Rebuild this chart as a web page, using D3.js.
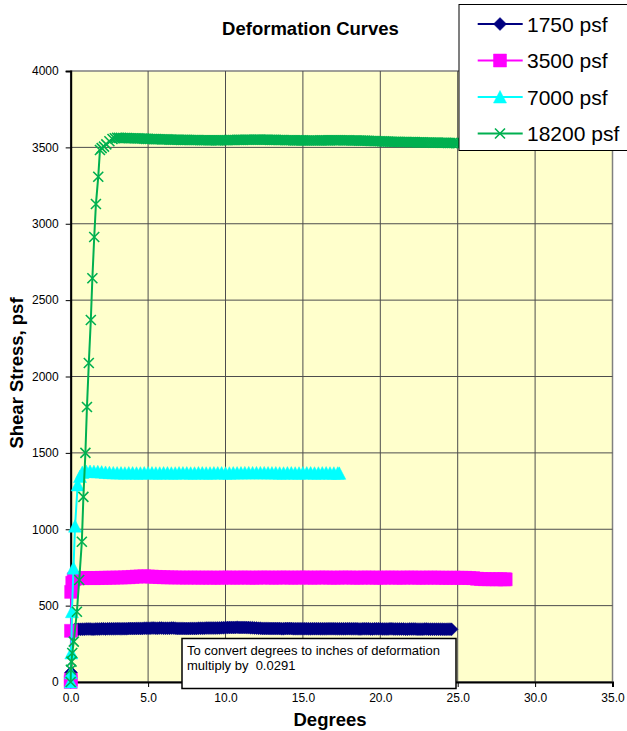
<!DOCTYPE html>
<html>
<head>
<meta charset="utf-8">
<script src="https://cdnjs.cloudflare.com/ajax/libs/d3/7.8.5/d3.min.js"></script>
<style>
  body { margin: 0; background: #fff; }
  text { font-family: "Liberation Sans", Arial, sans-serif; white-space: pre; }
</style>
</head>
<body>
<div id="chart"></div>
<script>
// Chart data
var seriesNames = ['1750 psf', '3500 psf', '7000 psf', '18200 psf'];
var xTicks = [0, 5, 10, 15, 20, 25, 30, 35];
var xTickLabels = ['0.0', '5.0', '10.0', '15.0', '20.0', '25.0', '30.0', '35.0'];
var yTicks = [0, 500, 1000, 1500, 2000, 2500, 3000, 3500, 4000];
var yTickLabels = ['0', '500', '1000', '1500', '2000', '2500', '3000', '3500', '4000'];
var noteLines = ['To convert degrees to inches of deformation', 'multiply by  0.0291'];

// [degrees, shear stress psf]
var s1750 = [[0,0],[0.02,62],[0.12,335],[0.25,342],[0.375,344],[0.5,345],[0.625,345],[0.75,346],[0.875,346],[1,347],[1.125,347],[1.25,347],[1.375,346],[1.5,346],[1.625,347],[1.75,347],[1.875,347],[2,348],[2.125,348],[2.25,347],[2.375,348],[2.5,348],[2.625,348],[2.75,348],[2.875,348],[3,349],[3.125,349],[3.25,348],[3.375,349],[3.5,349],[3.625,349],[3.75,350],[3.875,350],[4,350],[4.125,350],[4.25,351],[4.375,351],[4.5,351],[4.625,351],[4.75,352],[4.875,352],[5,352],[5.125,352],[5.25,353],[5.375,353],[5.5,352],[5.625,352],[5.75,353],[5.875,353],[6,352],[6.125,352],[6.25,352],[6.375,352],[6.5,353],[6.625,353],[6.75,352],[6.875,351],[7,351],[7.125,351],[7.25,351],[7.375,350],[7.5,350],[7.625,350],[7.75,351],[7.875,351],[8,351],[8.125,351],[8.25,352],[8.375,352],[8.5,352],[8.625,352],[8.75,353],[8.875,353],[9,353],[9.125,353],[9.25,353],[9.375,353],[9.5,354],[9.625,354],[9.75,355],[9.875,355],[10,356],[10.125,356],[10.25,357],[10.375,357],[10.5,357],[10.625,357],[10.75,358],[10.875,357],[11,357],[11.125,357],[11.25,357],[11.375,356],[11.5,356],[11.625,355],[11.75,355],[11.875,354],[12,353],[12.125,352],[12.25,352],[12.375,351],[12.5,351],[12.625,351],[12.75,351],[12.875,350],[13,350],[13.125,350],[13.25,350],[13.375,350],[13.5,350],[13.625,349],[13.75,349],[13.875,350],[14,350],[14.125,350],[14.25,350],[14.375,349],[14.5,349],[14.625,349],[14.75,349],[14.875,349],[15,349],[15.125,349],[15.25,349],[15.375,348],[15.5,348],[15.625,349],[15.75,349],[15.875,349],[16,349],[16.125,348],[16.25,348],[16.375,348],[16.5,348],[16.625,349],[16.75,349],[16.875,349],[17,349],[17.125,348],[17.25,348],[17.375,348],[17.5,348],[17.625,348],[17.75,348],[17.875,349],[18,349],[18.125,348],[18.25,348],[18.375,348],[18.5,348],[18.625,347],[18.75,347],[18.875,348],[19,348],[19.125,348],[19.25,348],[19.375,347],[19.5,347],[19.625,348],[19.75,348],[19.875,348],[20,348],[20.125,347],[20.25,347],[20.375,347],[20.5,347],[20.625,348],[20.75,348],[20.875,347],[21,347],[21.125,347],[21.25,347],[21.375,347],[21.5,347],[21.625,346],[21.75,346],[21.875,347],[22,347],[22.125,347],[22.25,347],[22.375,346],[22.5,346],[22.625,346],[22.75,346],[22.875,347],[23,347],[23.125,346],[23.25,346],[23.375,346],[23.5,346],[23.625,346],[23.75,346],[23.875,346],[24,346],[24.125,345],[24.25,345],[24.375,346],[24.5,346],[24.6,345]];

var s3500 = [[0,0],[0.01,15],[0.02,335],[0.03,590],[0.1,650],[0.2,672],[0.25,676],[0.5,679],[0.75,680],[1,681],[1.25,681],[1.5,680],[1.75,681],[2,682],[2.25,682],[2.5,683],[2.75,683],[3,684],[3.25,684],[3.5,685],[3.75,686],[4,688],[4.25,690],[4.5,691],[4.75,692],[5,691],[5.25,690],[5.5,688],[5.75,687],[6,686],[6.25,685],[6.5,685],[6.75,684],[7,684],[7.25,684],[7.5,683],[7.75,684],[8,684],[8.25,683],[8.5,683],[8.75,684],[9,683],[9.25,683],[9.5,683],[9.75,683],[10,684],[10.25,684],[10.5,683],[10.75,683],[11,684],[11.25,684],[11.5,683],[11.75,683],[12,683],[12.25,684],[12.5,684],[12.75,684],[13,683],[13.25,683],[13.5,684],[13.75,684],[14,684],[14.25,683],[14.5,683],[14.75,684],[15,684],[15.25,684],[15.5,683],[15.75,683],[16,684],[16.25,684],[16.5,684],[16.75,683],[17,683],[17.25,683],[17.5,684],[17.75,684],[18,684],[18.25,683],[18.5,683],[18.75,683],[19,684],[19.25,684],[19.5,683],[19.75,683],[20,683],[20.25,683],[20.5,684],[20.75,684],[21,683],[21.25,683],[21.5,683],[21.75,684],[22,684],[22.25,683],[22.5,683],[22.75,683],[23,683],[23.25,684],[23.5,683],[23.75,683],[24,683],[24.25,682],[24.5,682],[24.75,683],[25,682],[25.25,682],[25.5,682],[25.75,681],[26,680],[26.25,676],[26.5,674],[26.75,673],[27,673],[27.25,673],[27.5,672],[27.75,673],[28,672],[28.1,672]];

var s7000 = [[0,0],[0.01,60],[0.04,190],[0.08,460],[0.18,745],[0.28,1020],[0.45,1290],[0.6,1345],[0.75,1372],[1,1378],[1.25,1378],[1.5,1377],[1.75,1376],[2,1374],[2.25,1372],[2.5,1370],[2.75,1369],[3,1368],[3.25,1368],[3.5,1367],[3.75,1368],[4,1368],[4.25,1367],[4.5,1367],[4.75,1368],[5,1368],[5.25,1368],[5.5,1367],[5.75,1367],[6,1368],[6.25,1368],[6.5,1367],[6.75,1367],[7,1368],[7.25,1368],[7.5,1368],[7.75,1367],[8,1367],[8.25,1368],[8.5,1368],[8.75,1367],[9,1367],[9.25,1368],[9.5,1368],[9.75,1368],[10,1367],[10.25,1367],[10.5,1368],[10.75,1368],[11,1368],[11.25,1369],[11.5,1369],[11.75,1369],[12,1369],[12.25,1369],[12.5,1369],[12.75,1368],[13,1368],[13.25,1368],[13.5,1367],[13.75,1367],[14,1368],[14.25,1368],[14.5,1367],[14.75,1367],[15,1368],[15.25,1368],[15.5,1368],[15.75,1367],[16,1367],[16.25,1368],[16.5,1368],[16.75,1367],[17,1367],[17.25,1367],[17.35,1366]];

var s18200 = [[0,0],[0.01,80],[0.05,133],[0.1,190],[0.2,264],[0.4,460],[0.55,668],[0.72,918],[0.82,1212],[0.95,1500],[1.05,1800],[1.17,2088],[1.3,2370],[1.4,2643],[1.52,2913],[1.63,3129],[1.78,3308],[1.89,3483],[2,3495],[2.15,3505],[2.3,3520],[2.5,3540],[2.7,3555],[2.85,3560],[3,3562],[3.125,3562],[3.25,3562],[3.375,3561],[3.5,3561],[3.625,3561],[3.75,3560],[3.875,3560],[4,3560],[4.125,3559],[4.25,3559],[4.375,3559],[4.5,3558],[4.625,3558],[4.75,3557],[4.875,3556],[5,3556],[5.125,3555],[5.25,3555],[5.375,3554],[5.5,3554],[5.625,3553],[5.75,3553],[5.875,3552],[6,3552],[6.125,3552],[6.25,3552],[6.375,3551],[6.5,3551],[6.625,3550],[6.75,3550],[6.875,3550],[7,3550],[7.125,3549],[7.25,3549],[7.375,3549],[7.5,3549],[7.625,3548],[7.75,3548],[7.875,3548],[8,3548],[8.125,3548],[8.25,3548],[8.375,3547],[8.5,3547],[8.625,3547],[8.75,3547],[8.875,3547],[9,3547],[9.125,3547],[9.25,3547],[9.375,3546],[9.5,3546],[9.625,3546],[9.75,3547],[9.875,3547],[10,3547],[10.125,3547],[10.25,3548],[10.375,3548],[10.5,3548],[10.625,3548],[10.75,3549],[10.875,3549],[11,3549],[11.125,3549],[11.25,3550],[11.375,3550],[11.5,3550],[11.625,3550],[11.75,3550],[11.875,3551],[12,3551],[12.125,3551],[12.25,3551],[12.375,3550],[12.5,3550],[12.625,3550],[12.75,3550],[12.875,3549],[13,3549],[13.125,3549],[13.25,3549],[13.375,3548],[13.5,3548],[13.625,3548],[13.75,3548],[13.875,3547],[14,3547],[14.125,3547],[14.25,3547],[14.375,3546],[14.5,3546],[14.625,3546],[14.75,3546],[14.875,3546],[15,3546],[15.125,3545],[15.25,3545],[15.375,3545],[15.5,3545],[15.625,3545],[15.75,3545],[15.875,3545],[16,3545],[16.125,3546],[16.25,3546],[16.375,3546],[16.5,3546],[16.625,3546],[16.75,3546],[16.875,3547],[17,3547],[17.125,3547],[17.25,3547],[17.375,3547],[17.5,3547],[17.625,3546],[17.75,3546],[17.875,3546],[18,3546],[18.125,3545],[18.25,3545],[18.375,3545],[18.5,3545],[18.625,3544],[18.75,3544],[18.875,3544],[19,3544],[19.125,3543],[19.25,3543],[19.375,3542],[19.5,3542],[19.625,3541],[19.75,3541],[19.875,3540],[20,3540],[20.125,3539],[20.25,3539],[20.375,3538],[20.5,3538],[20.625,3537],[20.75,3537],[20.875,3537],[21,3537],[21.125,3536],[21.25,3536],[21.375,3535],[21.5,3535],[21.625,3535],[21.75,3535],[21.875,3534],[22,3534],[22.125,3534],[22.25,3534],[22.375,3533],[22.5,3533],[22.625,3533],[22.75,3533],[22.875,3532],[23,3532],[23.125,3532],[23.25,3532],[23.375,3531],[23.5,3531],[23.625,3531],[23.75,3531],[23.875,3530],[24,3530],[24.125,3530],[24.25,3530],[24.375,3529],[24.5,3529],[24.625,3529],[24.75,3529],[24.875,3528],[25,3528],[25.25,3528],[25.5,3528],[25.75,3527],[26,3527],[26.5,3527]];

var allSeries = [s1750, s3500, s7000, s18200];
var seriesColors = ['#000080', '#ff00ff', '#00ffff', '#00b050'];

// Marker shapes, Excel style
var markerPaths = [
    'M0,-6.5L6.5,0L0,6.5L-6.5,0Z',
    'M-6.5,-6.5H6.5V6.5H-6.5Z',
    'M0,-6.5L6.5,6L-6.5,6Z',
    'M-5,-5L5,5M5,-5L-5,5'
];

var svgWidth = 627;
var svgHeight = 731;

var margin = {
    top: 71,
    left: 70.7,
    right: 14.5,
    bottom: 49
};

var chartWidth = svgWidth - margin.left - margin.right;
var chartHeight = svgHeight - margin.top - margin.bottom;

var svg = d3.select('#chart')
    .append('svg')
    .attr('width', svgWidth)
    .attr('height', svgHeight);

var chartGroup = svg.append('g')
    .attr('transform', `translate(${margin.left}, ${margin.top})`);

// Scales
var xLinearScale = d3.scaleLinear()
    .domain([0, 35])
    .range([0, chartWidth]);

var yLinearScale = d3.scaleLinear()
    .domain([0, 4000])
    .range([chartHeight, 0]);

// Plot area
chartGroup.append('rect')
    .attr('width', chartWidth)
    .attr('height', chartHeight)
    .attr('fill', '#ffffcc')
    .attr('stroke', '#808080')
    .attr('stroke-width', 1.5);

// Gridlines
chartGroup.selectAll('.vgrid')
    .data(xTicks.slice(1, -1))
    .enter()
    .append('line')
    .attr('x1', d => xLinearScale(d))
    .attr('x2', d => xLinearScale(d))
    .attr('y1', 0)
    .attr('y2', chartHeight)
    .attr('stroke', '#4d4d4d')
    .attr('stroke-width', 1);

chartGroup.selectAll('.hgrid')
    .data(yTicks.slice(1, -1))
    .enter()
    .append('line')
    .attr('x1', 0)
    .attr('x2', chartWidth)
    .attr('y1', d => yLinearScale(d))
    .attr('y2', d => yLinearScale(d))
    .attr('stroke', '#4d4d4d')
    .attr('stroke-width', 1);

// Axes
var xAxis = d3.axisBottom(xLinearScale)
    .tickValues(xTicks)
    .tickFormat((d, i) => xTickLabels[i])
    .tickSize(5)
    .tickPadding(6.5);

var yAxis = d3.axisLeft(yLinearScale)
    .tickValues(yTicks)
    .tickFormat((d, i) => yTickLabels[i])
    .tickSize(5)
    .tickPadding(7);

var xAxisGroup = chartGroup.append('g')
    .attr('transform', `translate(0, ${chartHeight})`)
    .call(xAxis);

var yAxisGroup = chartGroup.append('g')
    .call(yAxis);

[xAxisGroup, yAxisGroup].forEach(function (g) {
    g.select('.domain').attr('stroke', '#000').attr('stroke-width', 2);
    g.selectAll('.tick line').attr('stroke', '#000').attr('stroke-width', 1);
    g.selectAll('text')
        .attr('fill', '#000')
        .style('font-size', '12px')
        .style('font-family', '"Liberation Sans", Arial, sans-serif');
});

// Series lines and markers
var line = d3.line()
    .x(d => xLinearScale(d[0]))
    .y(d => yLinearScale(d[1]));

allSeries.forEach(function (data, i) {
    var color = seriesColors[i];
    var isCross = i === 3;

    chartGroup.append('path')
        .datum(data)
        .attr('d', line)
        .attr('fill', 'none')
        .attr('stroke', color)
        .attr('stroke-width', 2);

    chartGroup.selectAll('.marker' + i)
        .data(data)
        .enter()
        .append('path')
        .attr('transform', d => `translate(${xLinearScale(d[0])}, ${yLinearScale(d[1])})`)
        .attr('d', markerPaths[i])
        .attr('fill', isCross ? 'none' : color)
        .attr('stroke', color)
        .attr('stroke-width', isCross ? 1.6 : 0.5);
});

// Conversion note
var noteGroup = svg.append('g');

noteGroup.append('rect')
    .attr('x', 182)
    .attr('y', 638.5)
    .attr('width', 274)
    .attr('height', 50)
    .attr('fill', '#fff')
    .attr('stroke', '#000')
    .attr('stroke-width', 1.5);

noteGroup.selectAll('text')
    .data(noteLines)
    .enter()
    .append('text')
    .attr('x', 187)
    .attr('y', (d, i) => 655 + i * 14.5)
    .style('font-size', '13px')
    .text(d => d);

// Legend
var legendGroup = svg.append('g');

legendGroup.append('rect')
    .attr('x', 459)
    .attr('y', 4.5)
    .attr('width', 200)
    .attr('height', 146)
    .attr('fill', '#fff')
    .attr('stroke', '#000')
    .attr('stroke-width', 1);

seriesNames.forEach(function (name, i) {
    var cy = 24 + i * 36.5;
    var color = seriesColors[i];
    var isCross = i === 3;

    legendGroup.append('line')
        .attr('x1', 477.7)
        .attr('x2', 522.7)
        .attr('y1', cy)
        .attr('y2', cy)
        .attr('stroke', color)
        .attr('stroke-width', 2);

    legendGroup.append('path')
        .attr('transform', `translate(500, ${cy})`)
        .attr('d', markerPaths[i])
        .attr('fill', isCross ? 'none' : color)
        .attr('stroke', color)
        .attr('stroke-width', isCross ? 1.6 : 0.5);

    legendGroup.append('text')
        .attr('x', 527)
        .attr('y', cy + 7.5)
        .style('font-size', '21px')
        .text(name);
});

// Titles
svg.append('text')
    .attr('x', 310.5)
    .attr('y', 34.5)
    .attr('text-anchor', 'middle')
    .style('font-size', '18.5px')
    .style('font-weight', 'bold')
    .text('Deformation Curves');

svg.append('text')
    .attr('x', 330)
    .attr('y', 726)
    .attr('text-anchor', 'middle')
    .style('font-size', '18.5px')
    .style('font-weight', 'bold')
    .text('Degrees');

svg.append('text')
    .attr('transform', 'translate(23, 373) rotate(-90)')
    .attr('text-anchor', 'middle')
    .style('font-size', '18.5px')
    .style('font-weight', 'bold')
    .text('Shear Stress, psf');
</script>
</body>
</html>
